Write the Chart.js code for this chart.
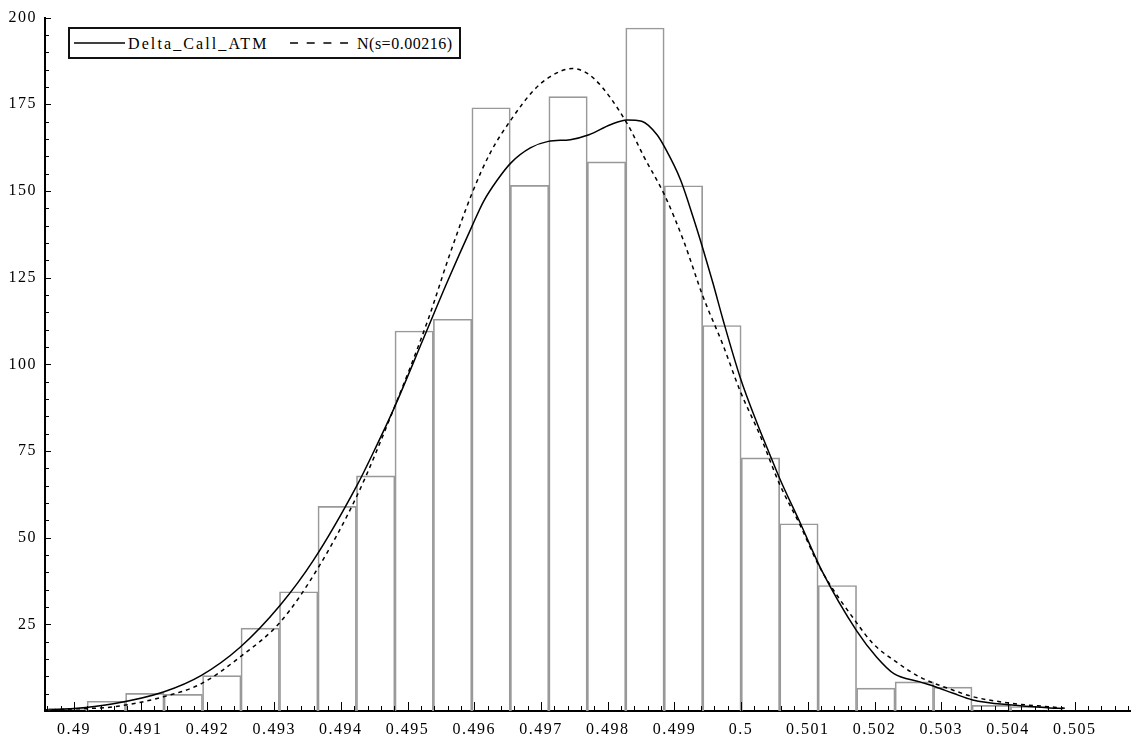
<!DOCTYPE html>
<html><head><meta charset="utf-8">
<script src="https://cdn.jsdelivr.net/npm/chart.js@4.4.1/dist/chart.umd.min.js"></script>
<style>
html,body{margin:0;padding:0;background:#fff;}
#wrap{position:relative;width:1131px;height:744px;overflow:hidden;}
#legend{position:absolute;left:68px;top:27px;width:393px;height:32px;box-sizing:border-box;border:2px solid #111;background:#fff;font-family:"Liberation Serif","DejaVu Serif",serif;font-size:16px;line-height:18px;color:#000;}
#legend span,#legend svg{position:absolute;display:block;white-space:nowrap;}
</style></head><body>
<div id="wrap"><canvas id="c" width="1131" height="744"></canvas>
<div id="legend">
<svg style="left:4px;top:9px" width="51" height="10"><line x1="0" y1="5" x2="51" y2="5" stroke="#000" stroke-width="1.5"/></svg>
<span style="left:58px;top:6px;letter-spacing:2.1px">Delta_Call_ATM</span>
<svg style="left:220px;top:9px" width="58" height="10"><line x1="0" y1="5" x2="58" y2="5" stroke="#000" stroke-width="1.5" stroke-dasharray="8,8.7"/></svg>
<span style="left:287px;top:6px;letter-spacing:0.5px">N(s=0.00216)</span>
</div></div>
<script>
// ---- data ----
const binCenters = [0.489907, 0.490484, 0.491061, 0.491638, 0.492215, 0.492791, 0.493368, 0.493945, 0.494522, 0.495099, 0.495675, 0.496252, 0.496829, 0.497406, 0.497983, 0.498559, 0.499136, 0.499713, 0.500290, 0.500867, 0.501443, 0.502020, 0.502597, 0.503174, 0.503751, 0.504327];
const binCounts  = [0.8, 2.8, 5.1, 4.8, 10.2, 23.9, 34.4, 59.0, 67.8, 109.6, 113.0, 174.0, 151.6, 177.2, 158.4, 197.0, 151.5, 111.2, 73.0, 54.0, 36.2, 6.6, 8.4, 6.9, 1.6, 1.3];

const kdeX = [0.48955, 0.49000, 0.49059, 0.49134, 0.49191, 0.49249, 0.49309, 0.49359, 0.49424, 0.49451, 0.49479, 0.49524, 0.49559, 0.49597, 0.49614, 0.49634, 0.49655, 0.49684, 0.49711, 0.49744, 0.49772, 0.49804, 0.49829, 0.49851, 0.49874, 0.49886, 0.49909, 0.49928, 0.49943, 0.49958, 0.49973, 0.49999, 0.50024, 0.50043, 0.50058, 0.50088, 0.50121, 0.50173, 0.50203, 0.50229, 0.50268, 0.50291, 0.50318, 0.50347, 0.50406, 0.50463, 0.50483];
const kdeY = [0.2, 0.7, 2.1, 5.5, 10.3, 18.4, 30.5, 43.5, 65.0, 75.5, 87.0, 107.5, 123.5, 140.0, 147.0, 153.0, 158.1, 162.4, 164.3, 164.8, 166.2, 169.1, 170.5, 170.1, 166.2, 162.4, 153.3, 142.5, 133.2, 123.3, 112.8, 96.0, 83.0, 74.0, 67.0, 54.5, 40.5, 23.2, 15.6, 10.8, 8.4, 7.0, 5.1, 3.2, 1.7, 0.9, 0.7];

const normX = [0.48955, 0.49000, 0.49059, 0.49134, 0.49191, 0.49249, 0.49309, 0.49365, 0.49424, 0.49479, 0.49531, 0.49562, 0.49597, 0.49624, 0.49655, 0.49689, 0.49714, 0.49747, 0.49779, 0.49829, 0.49854, 0.49886, 0.49914, 0.49943, 0.49973, 0.49999, 0.50028, 0.50058, 0.50088, 0.50118, 0.50173, 0.50198, 0.50236, 0.50268, 0.50318, 0.50348, 0.50406, 0.50463, 0.50486];
const normY = [0.3, 0.6, 1.2, 4.1, 7.9, 15.6, 25.6, 41.0, 62.0, 87.0, 113.0, 131.0, 149.5, 161.0, 170.5, 179.0, 183.0, 185.3, 182.5, 169.5, 160.0, 148.5, 135.5, 119.5, 105.5, 92.1, 79.7, 65.3, 53.8, 41.4, 25.5, 19.4, 13.7, 9.8, 6.0, 4.1, 2.2, 1.2, 0.8];

const xTickValues = [0.49, 0.491, 0.492, 0.493, 0.494, 0.495, 0.496, 0.497, 0.498, 0.499, 0.5, 0.501, 0.502, 0.503, 0.504, 0.505];
const xTickLabels = ['0.49', '0.491', '0.492', '0.493', '0.494', '0.495', '0.496', '0.497', '0.498', '0.499', '0.5', '0.501', '0.502', '0.503', '0.504', '0.505'];
const yTickValues = [25, 50, 75, 100, 125, 150, 175, 200];
const yTickLabels = ['25', '50', '75', '100', '125', '150', '175', '200'];
const xMin = 0.489565, xMax = 0.50583, yMin = 0, yMax = 200;

// ---- chart ----
const toPts = (xs, ys) => xs.map((x, i) => ({x: x, y: ys[i]}));
Chart.defaults.font.family = '"Liberation Serif", "DejaVu Serif", serif';
Chart.defaults.font.size = 16;
Chart.defaults.color = '#000';

const textSpacing = {
  id: 'textSpacing',
  beforeDraw(chart) { try { chart.ctx.letterSpacing = '1.5px'; } catch (e) {} }
};

const tickMarks = {
  id: 'tickMarks',
  afterDatasetsDraw(chart) {
    const ctx = chart.ctx, xs = chart.scales.x, ys = chart.scales.y, a = chart.chartArea;
    ctx.save();
    ctx.strokeStyle = '#000';
    ctx.lineWidth = 1;
    ctx.beginPath();
    for (let k = Math.ceil(xMin * 5000); k <= Math.floor(xMax * 5000); k++) {
      const v = k / 5000;
      const major = xTickValues.some(t => Math.abs(t - v) < 1e-7);
      const px = Math.round(xs.getPixelForValue(v)) + 0.5;
      ctx.moveTo(px, a.bottom);
      ctx.lineTo(px, a.bottom - (major ? 9 : 5));
    }
    for (let v = 5; v <= yMax; v += 5) {
      const major = yTickValues.includes(v);
      const py = Math.round(ys.getPixelForValue(v)) + 0.5;
      ctx.moveTo(a.left, py);
      ctx.lineTo(a.left + (major ? 6 : 4), py);
    }
    ctx.stroke();
    ctx.restore();
  }
};

function startChart() {
  new Chart(document.getElementById('c'), {
    type: 'bar',
    data: {
      datasets: [
        {type: 'line', label: 'Delta_Call_ATM', data: toPts(kdeX, kdeY), borderColor: '#000', borderWidth: 1.5,
         pointRadius: 0, cubicInterpolationMode: 'monotone', fill: false, order: 1},
        {type: 'line', label: 'N(s=0.00216)', data: toPts(normX, normY), borderColor: '#000', borderWidth: 1.5,
         borderDash: [4, 4], pointRadius: 0, cubicInterpolationMode: 'monotone', fill: false, order: 2},
        {type: 'bar', label: 'histogram', data: toPts(binCenters, binCounts), backgroundColor: 'rgba(255,255,255,0)',
         borderColor: '#999999', borderWidth: 1, barPercentage: 1, categoryPercentage: 1, borderSkipped: 'start', order: 3}
      ]
    },
    options: {
      responsive: false,
      animation: false,
      devicePixelRatio: 1,
      layout: {padding: {top: 14, right: 1, left: 0, bottom: 0}},
      plugins: {legend: {display: false}, tooltip: {enabled: false}},
      scales: {
        x: {
          type: 'linear', min: xMin, max: xMax, offset: false,
          grid: {display: false, drawTicks: false},
          border: {display: true, color: '#000', width: 2},
          afterBuildTicks(s) { s.ticks = xTickValues.map(v => ({value: v})); },
          afterFit(s) { s.height = 33; },
          ticks: {
            autoSkip: false, maxRotation: 0, padding: 9, color: '#000',
            callback: (v) => { const i = xTickValues.findIndex(t => Math.abs(t - v) < 1e-9); return i >= 0 ? xTickLabels[i] : ''; }
          }
        },
        y: {
          type: 'linear', min: yMin, max: yMax,
          grid: {display: false, drawTicks: false},
          border: {display: true, color: '#000', width: 2},
          afterBuildTicks(s) { s.ticks = yTickValues.map(v => ({value: v})); },
          afterFit(s) { s.width = 45; },
          ticks: {
            autoSkip: false, padding: 8, color: '#000',
            callback: (v) => { const i = yTickValues.indexOf(v); return i >= 0 ? yTickLabels[i] : ''; }
          }
        }
      }
    },
    plugins: [textSpacing, tickMarks]
  });
}
if (document.fonts && document.fonts.load) {
  document.fonts.load('16px "Liberation Serif"').then(startChart, startChart);
} else { startChart(); }
</script>
</body></html>
